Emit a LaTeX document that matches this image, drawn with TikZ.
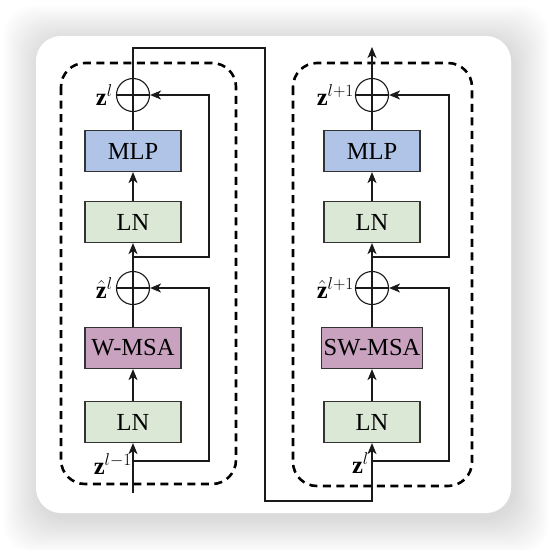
\RequirePackage{fix-cm}
\documentclass[tikz,border=0pt]{standalone}
\usepackage{amsmath}
\usepackage{fontspec}
\setmainfont{Liberation Serif}
\usepackage{tikz}
\usetikzlibrary{arrows.meta,positioning}
\definecolor{mlpblue}{HTML}{B0C4E8}
\definecolor{lngreen}{HTML}{DAE8D5}
\definecolor{msapurple}{HTML}{C8A2BE}
\definecolor{edgegray}{HTML}{333333}
\definecolor{wirecolor}{HTML}{1A1A1A}

\begin{document}
\begin{tikzpicture}[
    x=1pt, y=-1pt,
    >={Stealth[length=11pt,width=9pt,inset=3pt]},
    every node/.style={font=\fontsize{24.5}{28}\selectfont},
    block/.style={
        rectangle,
        draw=edgegray,
        line width=1.1pt,
        minimum width=96pt,
        minimum height=41pt,
        inner sep=2.5pt
    },
    addop/.style={
        circle,
        draw=wirecolor,
        line width=1.1pt,
        minimum size=33pt,
        inner sep=0pt,
        path picture={
            \draw[wirecolor, line width=1.1pt]
                (path picture bounding box.north) -- (path picture bounding box.south)
                (path picture bounding box.west) -- (path picture bounding box.east);
        }
    },
    groupbox/.style={draw=black, dash pattern=on 8pt off 5.5pt, line width=2.6pt, rounded corners=24pt},
    arrow/.style={->, draw=wirecolor, line width=1.2pt},
    wire/.style={draw=wirecolor, line width=1.2pt}
]
    \useasboundingbox (0,0) rectangle (548,550);

    % === CARD WITH SOFT SHADOW ===
    \foreach \i in {1,...,36}
        \fill[black, opacity=0.0042, rounded corners=30pt] (39-\i,41-\i) rectangle (514+\i,518+\i);
    \fill[white, rounded corners=25pt] (36,36) rectangle (511,513);

    % === LEFT BLOCK: W-MSA ===
    \draw[groupbox] (61,63) rectangle (236,484);

    \node[block, fill=lngreen] (lnL1) at (133,422) {LN};
    \node[block, fill=msapurple] (msaL) at (133,348) {W-MSA};
    \node[addop] (addL1) at (133,288) {};
    \node[block, fill=lngreen] (lnL2) at (133,222) {LN};
    \node[block, fill=mlpblue] (mlpL) at (133,151) {MLP};
    \node[addop] (addL2) at (133,95) {};

    % Labels
    \node[anchor=base east, inner sep=1pt] (zinL) at (133,474) {$\mathbf{z}^{l-1}$};
    \node[anchor=east, inner sep=3pt] (zhatL) at (addL1.west) {$\hat{\mathbf{z}}^{l}$};
    \node[anchor=east, inner sep=3pt] (zoutL) at (addL2.west) {$\mathbf{z}^{l}$};

    % Wires
    \coordinate (inL) at (133,493);
    \coordinate (brL1) at (133,461);
    \coordinate (brL2) at (133,257);
    \draw[arrow] (inL) -- (lnL1);
    \draw[arrow] (lnL1) -- (msaL);
    \draw[wire] (msaL) -- (addL1);
    \draw[arrow] (brL1) -- ++(76,0) |- (addL1);
    \draw[arrow] (addL1) -- (lnL2);
    \draw[arrow] (lnL2) -- (mlpL);
    \draw[wire] (mlpL) -- (addL2);
    \draw[arrow] (brL2) -- ++(76,0) |- (addL2);

    % === RIGHT BLOCK: SW-MSA ===
    \draw[groupbox] (293,63) rectangle (472,486);

    \node[block, fill=lngreen] (lnR1) at (372,422) {LN};
    \node[block, fill=msapurple] (msaR) at (372,348) {SW-MSA};
    \node[addop] (addR1) at (372,288) {};
    \node[block, fill=lngreen] (lnR2) at (372,222) {LN};
    \node[block, fill=mlpblue] (mlpR) at (372,151) {MLP};
    \node[addop] (addR2) at (372,95) {};

    % Labels
    \node[anchor=base east, inner sep=1pt] (zinR) at (370,473) {$\mathbf{z}^{l}$};
    \node[anchor=east, inner sep=1pt] (zhatR) at (addR1.west) {$\hat{\mathbf{z}}^{l+1}$};
    \node[anchor=east, inner sep=1pt] (zoutR) at (addR2.west) {$\mathbf{z}^{l+1}$};

    % Wires
    \coordinate (brR1) at (372,461);
    \coordinate (brR2) at (372,257);
    \coordinate (outR) at (372,47);
    \draw[arrow] (lnR1) -- (msaR);
    \draw[wire] (msaR) -- (addR1);
    \draw[arrow] (brR1) -- ++(77,0) |- (addR1);
    \draw[arrow] (addR1) -- (lnR2);
    \draw[arrow] (lnR2) -- (mlpR);
    \draw[wire] (mlpR) -- (addR2);
    \draw[arrow] (brR2) -- ++(77,0) |- (addR2);
    \draw[arrow] (addR2) -- (outR);

    % === LINK BETWEEN BLOCKS ===
    \coordinate (topL) at (133,48);
    \coordinate (turnA) at (265,48);
    \coordinate (turnB) at (265,501);
    \coordinate (botR) at (372,501);
    \draw[arrow] (addL2) -- (topL) -- (turnA) -- (turnB) -- (botR) -- (lnR1);
\end{tikzpicture}
\end{document}
